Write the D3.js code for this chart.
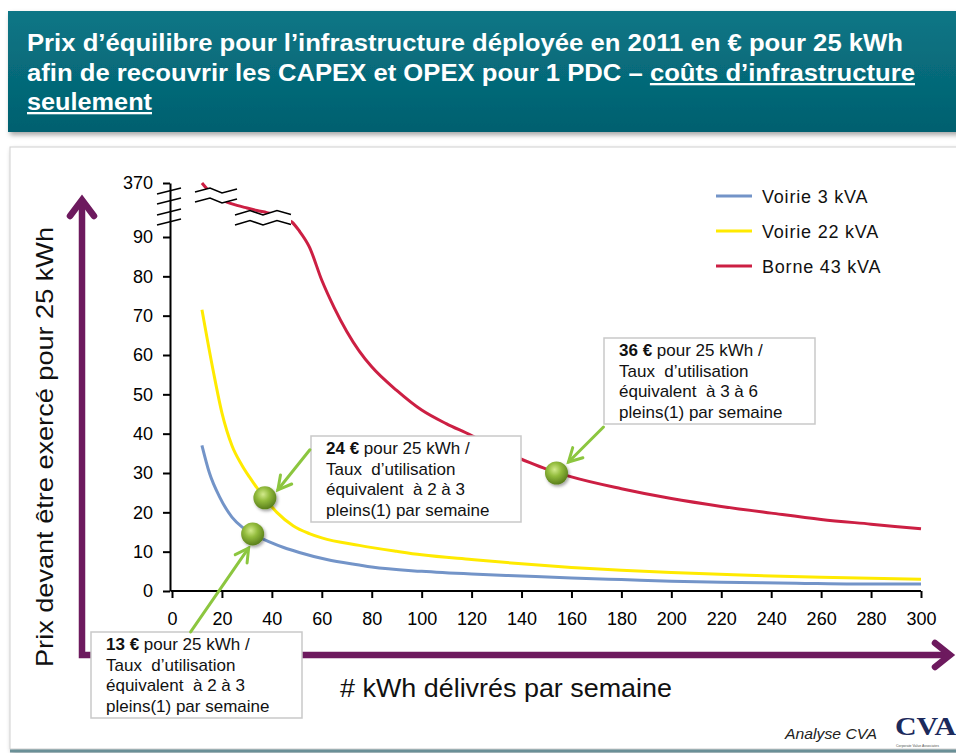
<!DOCTYPE html>
<html>
<head>
<meta charset="utf-8">
<script src="https://cdn.jsdelivr.net/npm/d3@7"></script>
<style>
    body { margin: 0; background: #fff; }
    svg text { font-family: "Liberation Sans", Arial, sans-serif; }
</style>
</head>
<body>
<svg id="chart" width="956" height="753"></svg>
<script>
// ---- data ----
var xTicks = [0, 20, 40, 60, 80, 100, 120, 140, 160, 180, 200, 220, 240, 260, 280, 300];
var yTicks = [0, 10, 20, 30, 40, 50, 60, 70, 80, 90];
var yBreakTicks = [370];

var seriesNames = ["Voirie 3 kVA", "Voirie 22 kVA", "Borne 43 kVA"];

var voirie3Kwh = [12, 15, 19, 24, 28, 32, 39, 45, 51, 62, 75, 80, 100, 120, 140, 160, 180, 200, 220, 250, 273, 300];
var voirie3Prix = [37, 30, 24, 18.8, 16.3, 14.6, 12.5, 11, 9.8, 8.0, 6.6, 6.1, 5.0, 4.3, 3.8, 3.3, 2.9, 2.5, 2.2, 2.0, 1.8, 1.8];

var voirie22Kwh = [12, 16.5, 20, 24, 28, 31, 37, 42, 48.5, 55, 60, 75, 90, 100, 120, 140, 160, 180, 200, 225, 260, 300];
var voirie22Prix = [71.5, 56, 45.3, 37, 32, 29, 23.7, 20, 16.6, 14.6, 13.5, 11.6, 10.1, 9.2, 8, 6.9, 6, 5.3, 4.7, 4.1, 3.5, 3.0];

var borne43Kwh = [12, 14, 17, 20, 22, 26, 30, 34, 38, 42, 45, 48, 51, 55, 60, 65, 70, 75, 80, 90, 100, 110, 120, 130, 140, 150, 160, 180, 200, 220, 240, 260, 280, 300];
var borne43Prix = [370, 330, 287, 255, 238, 215, 197, 180, 165, 148, 125, 100, 94, 87.5, 79, 72, 66, 61, 57, 51, 46, 42.5, 39.5, 36, 33.5, 31, 29, 26, 23.5, 21.5, 19.8, 18.2, 17, 15.8];

// highlighted points (one per series) and their call-outs
var pointKwh = [32.3, 37.2, 154];
var pointPrix = [14.5, 23.7, 30];
var pointPrice = ["13 €", "24 €", "36 €"];
var pointPleins = ["2 à 3", "2 à 3", "3 à 6"];

var colors = ["#7394c8", "#ffea00", "#cc1f43"];
var color = d3.scaleOrdinal().domain(seriesNames).range(colors);

var svg = d3.select("#chart");
var defs = svg.append("defs");

var sh = defs.append("filter").attr("id", "shadow").attr("x", "-5%").attr("y", "-10%").attr("width", "115%").attr("height", "130%");
sh.append("feDropShadow").attr("dx", 2).attr("dy", 3).attr("stdDeviation", 2.5)
    .attr("flood-color", "#000").attr("flood-opacity", 0.35);

var dsh = defs.append("filter").attr("id", "dotshadow").attr("x", "-50%").attr("y", "-50%").attr("width", "200%").attr("height", "200%");
dsh.append("feDropShadow").attr("dx", 1.5).attr("dy", 2).attr("stdDeviation", 1.5)
    .attr("flood-color", "#000").attr("flood-opacity", 0.35);

var tg = defs.append("linearGradient").attr("id", "teal").attr("x1", 0).attr("y1", 0).attr("x2", 0).attr("y2", 1);
tg.append("stop").attr("offset", "0%").attr("stop-color", "#0b7686");
tg.append("stop").attr("offset", "100%").attr("stop-color", "#02606f");

var gg = defs.append("radialGradient").attr("id", "ball").attr("cx", "42%").attr("cy", "35%").attr("r", "65%");
gg.append("stop").attr("offset", "0%").attr("stop-color", "#d2ea8c");
gg.append("stop").attr("offset", "45%").attr("stop-color", "#92bb3c");
gg.append("stop").attr("offset", "100%").attr("stop-color", "#5a7f1c");

// ---- title banner ----
svg.append("rect")
    .attr("x", 8).attr("y", 11).attr("width", 970).attr("height", 121)
    .attr("fill", "url(#teal)")
    .attr("filter", "url(#shadow)");

var titleFont = '"Liberation Sans Narrow", "Arial Narrow", "Liberation Sans", sans-serif';
var title = svg.append("g")
    .attr("fill", "#fff")
    .attr("font-weight", "bold")
    .attr("font-size", 23);

title.append("text").attr("x", 27).attr("y", 51).style("font-family", titleFont)
    .attr("textLength", 876).attr("lengthAdjust", "spacingAndGlyphs")
    .text("Prix d’équilibre pour l’infrastructure déployée en 2011 en € pour 25 kWh");

var t2 = title.append("text").attr("x", 27).attr("y", 81).style("font-family", titleFont)
    .attr("textLength", 888).attr("lengthAdjust", "spacingAndGlyphs");
t2.append("tspan").text("afin de recouvrir les CAPEX et OPEX pour 1 PDC – ");
t2.append("tspan").style("text-decoration", "underline").text("coûts d’infrastructure");

title.append("text").attr("x", 27).attr("y", 110).style("font-family", titleFont)
    .style("text-decoration", "underline")
    .attr("textLength", 125).attr("lengthAdjust", "spacingAndGlyphs")
    .text("seulement");

// ---- white panel ----
svg.append("rect")
    .attr("x", 10).attr("y", 147).attr("width", 970).attr("height", 602)
    .attr("fill", "#fff")
    .attr("stroke", "#cfcfcf")
    .attr("filter", "url(#shadow)");
svg.append("line")
    .attr("x1", 10).attr("x2", 956).attr("y1", 751).attr("y2", 751)
    .attr("stroke", "#6a9097").attr("stroke-width", 3);

// ---- scales ----
var x = d3.scaleLinear().domain([0, 300]).range([172, 921]);
// broken axis: 0-90 linear, 90-370 squeezed into the top
var y = d3.scaleLinear().domain([0, 90, 100, 370]).range([591, 237, 222, 183]);

// ---- big purple arrows ----
var purple = "#6d1a5e";
var pa = svg.append("g")
    .attr("stroke", purple).attr("stroke-width", 6.5)
    .attr("fill", "none").attr("stroke-linejoin", "miter");
pa.append("polyline").attr("points", "82,204 82,655 946,655");
pa.append("polyline").attr("points", "70,216 82,200 94,216").attr("stroke-linecap", "round");
pa.append("polyline").attr("points", "935,643 950,655 935,667").attr("stroke-linecap", "round");

// ---- axes ----
var xAxis = svg.append("g")
    .attr("transform", "translate(0,591)")
    .call(d3.axisBottom(x).tickValues(xTicks).tickSize(7).tickSizeOuter(0).tickPadding(14));

var yAxis = svg.append("g")
    .attr("transform", "translate(170,0)")
    .call(d3.axisLeft(y).tickValues(yTicks.concat(yBreakTicks)).tickSize(7).tickSizeOuter(0).tickPadding(10)
        .tickFormat(d3.format("d")));

[xAxis, yAxis].forEach(function (a) {
    a.select(".domain").attr("stroke", "#000").attr("stroke-width", 2);
    a.selectAll(".tick line").attr("stroke", "#000").attr("stroke-width", 2);
    a.selectAll(".tick text").attr("fill", "#000").attr("font-size", 18)
        .style("font-family", '"Liberation Sans", Arial, sans-serif');
});
xAxis.select(".domain").attr("d", "M171,0H921");

// break marks on the y axis
var brk = svg.append("g").attr("stroke", "#000").attr("stroke-width", 1.8);
[191, 201, 212, 222].forEach(function (b) {
    brk.append("line").attr("x1", 157).attr("x2", 181).attr("y1", b + 3).attr("y2", b - 3);
});

// ---- curves ----
var lineGen = d3.line()
    .x(function (d) { return x(d[0]); })
    .y(function (d) { return y(d[1]); })
    .curve(d3.curveMonotoneX);

var seriesKwh = [voirie3Kwh, voirie22Kwh, borne43Kwh];
var seriesPrix = [voirie3Prix, voirie22Prix, borne43Prix];

seriesNames.forEach(function (name, i) {
    var pts = seriesKwh[i].map(function (k, j) { return [k, seriesPrix[i][j]]; });
    svg.append("path")
        .datum(pts)
        .attr("fill", "none")
        .attr("stroke", color(name))
        .attr("stroke-width", 3)
        .attr("d", lineGen);
});

// zig-zag break marks over the red curve
var zig = [
    [[195, 192], [210, 188], [222, 193], [237, 189]],
    [[235, 215], [250, 210.5], [263, 215], [277, 210.5], [291, 214.5]]
];
zig.forEach(function (top) {
    var bottom = top.map(function (p) { return [p[0], p[1] + 10]; });
    svg.append("polygon")
        .attr("points", top.concat(bottom.slice().reverse()).join(" "))
        .attr("fill", "#fff");
    [top, bottom].forEach(function (l) {
        svg.append("polyline")
            .attr("points", l.join(" "))
            .attr("fill", "none").attr("stroke", "#000").attr("stroke-width", 1.6);
    });
});

// ---- call-out boxes ----
var boxes = [
    {x: 91, y: 632, w: 211, h: 86},
    {x: 311, y: 436, w: 210, h: 86},
    {x: 604, y: 338, w: 211, h: 86}
];
boxes.forEach(function (b, i) {
    svg.append("rect")
        .attr("x", b.x).attr("y", b.y).attr("width", b.w).attr("height", b.h)
        .attr("fill", "#fff").attr("stroke", "#c9c9c9").attr("stroke-width", 1.5);
    var g = svg.append("g").attr("font-size", 17).attr("fill", "#111");
    var l1 = g.append("text").attr("x", b.x + 15).attr("y", b.y + 18);
    l1.append("tspan").attr("font-weight", "bold").text(pointPrice[i]);
    l1.append("tspan").text(" pour 25 kWh /");
    g.append("text").attr("x", b.x + 15).attr("y", b.y + 38.5)
        .attr("xml:space", "preserve").style("white-space", "pre").text("Taux  d’utilisation");
    g.append("text").attr("x", b.x + 15).attr("y", b.y + 59)
        .attr("xml:space", "preserve").style("white-space", "pre").text("équivalent  à " + pointPleins[i]);
    g.append("text").attr("x", b.x + 15).attr("y", b.y + 79.5).text("pleins(1) par semaine");
});

// ---- green arrows + balls ----
var arrowTail = [[-62, 98], [45, -48], [47, -46]];
var arrowTip = [[-4, 14], [13, -8], [12, -11]];
var green = "#8cc63f";
pointKwh.forEach(function (k, i) {
    var cx = x(k), cy = y(pointPrix[i]);
    var tx = cx + arrowTail[i][0], ty = cy + arrowTail[i][1];
    var hx = cx + arrowTip[i][0], hy = cy + arrowTip[i][1];
    var ang = Math.atan2(hy - ty, hx - tx);
    var len = 15;
    var w1 = [hx - len * Math.cos(ang - 0.5), hy - len * Math.sin(ang - 0.5)];
    var w2 = [hx - len * Math.cos(ang + 0.5), hy - len * Math.sin(ang + 0.5)];
    var g = svg.append("g").attr("stroke", green).attr("stroke-width", 3)
        .attr("fill", "none").attr("stroke-linecap", "round");
    g.append("line").attr("x1", tx).attr("y1", ty).attr("x2", hx).attr("y2", hy);
    g.append("polyline").attr("points", [w1, [hx, hy], w2].join(" "));
});
svg.selectAll(".ball")
    .data(pointKwh)
    .enter()
    .append("circle")
    .attr("class", "ball")
    .attr("cx", function (d) { return x(d); })
    .attr("cy", function (d, i) { return y(pointPrix[i]); })
    .attr("r", 11.5)
    .attr("fill", "url(#ball)")
    .attr("filter", "url(#dotshadow)");

// ---- legend ----
var legend = svg.append("g");
seriesNames.forEach(function (name, i) {
    var ly = 196 + i * 35;
    legend.append("line")
        .attr("x1", 716).attr("x2", 752).attr("y1", ly).attr("y2", ly)
        .attr("stroke", color(name)).attr("stroke-width", 3);
    legend.append("text")
        .attr("x", 762).attr("y", ly + 6.5)
        .attr("font-size", 18).attr("letter-spacing", 0.8).attr("fill", "#111")
        .text(name);
});

// ---- axis titles ----
svg.append("text")
    .attr("transform", "translate(53,447) rotate(-90)")
    .attr("text-anchor", "middle")
    .attr("font-size", 24)
    .attr("fill", "#111")
    .attr("textLength", 440).attr("lengthAdjust", "spacingAndGlyphs")
    .text("Prix devant être exercé pour 25 kWh");

svg.append("text")
    .attr("x", 340).attr("y", 697)
    .attr("font-size", 25)
    .attr("fill", "#111")
    .attr("textLength", 332).attr("lengthAdjust", "spacingAndGlyphs")
    .text("# kWh délivrés par semaine");

// ---- source / logo ----
svg.append("text")
    .attr("x", 785).attr("y", 739)
    .attr("font-size", 15).attr("font-style", "italic").attr("fill", "#222")
    .attr("textLength", 92).attr("lengthAdjust", "spacingAndGlyphs")
    .text("Analyse CVA");
svg.append("text")
    .attr("x", 895).attr("y", 735)
    .attr("font-size", 26).attr("font-weight", "bold").attr("fill", "#1c2a5c")
    .style("font-family", '"Liberation Serif", "DejaVu Serif", serif')
    .attr("textLength", 61).attr("lengthAdjust", "spacingAndGlyphs")
    .text("CVA");
svg.append("text")
    .attr("x", 896).attr("y", 747)
    .attr("font-size", 3.5).attr("fill", "#555")
    .text("Corporate Value Associates");
</script>
</body>
</html>
